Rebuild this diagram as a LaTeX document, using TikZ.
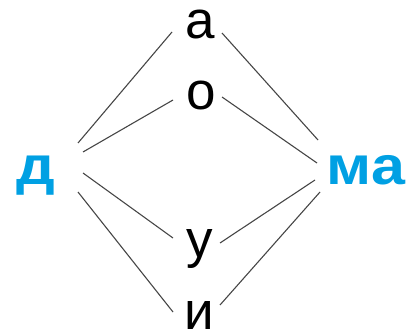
\documentclass[tikz,border=0pt]{standalone}
\usepackage{fontspec}
\setmainfont{Liberation Sans}
\definecolor{lettercyan}{RGB}{0,160,227}
\tikzset{
  vowel/.style={anchor=base, inner sep=0pt, font=\fontsize{53}{53}\selectfont},
  syll/.style={anchor=base, inner sep=0pt, text=lettercyan, xscale=1.22, yscale=1.08,
    font=\fontsize{50}{50}\selectfont\bfseries},
  link/.style={line width=1.1pt, gray!55!black}
}
\begin{document}
\begin{tikzpicture}[x=1pt,y=-1pt]
\useasboundingbox (0,0) rectangle (414,331);
% letters:
\node[syll] (d) at (36,184) {д};
\node[syll] (ma) at (366,184) {ма};
\node[vowel] (a) at (200,39) {а};
\node[vowel] (o) at (201,110) {о};
\node[vowel] (u) at (200,257) {у};
\node[vowel] (i) at (199,329) {и};
% left lines:
\draw[link] ([shift={(42,-41)}]d.base) -- ([shift={(-28,-7)}]a.base);
\draw[link] ([shift={(47,-32)}]d.base) -- ([shift={(-28,-10)}]o.base);
\draw[link] ([shift={(47,-11)}]d.base) -- ([shift={(-27,-19)}]u.base);
\draw[link] ([shift={(42,8)}]d.base) -- ([shift={(-26,-17)}]i.base);
% right lines:
\draw[link] ([shift={(22,-6)}]a.base) -- ([shift={(-48,-44)}]ma.base);
\draw[link] ([shift={(21,-13)}]o.base) -- ([shift={(-49,-21)}]ma.base);
\draw[link] ([shift={(20,-14)}]u.base) -- ([shift={(-51,-4)}]ma.base);
\draw[link] ([shift={(21,-24)}]i.base) -- ([shift={(-46,8)}]ma.base);
\end{tikzpicture}
\end{document}
